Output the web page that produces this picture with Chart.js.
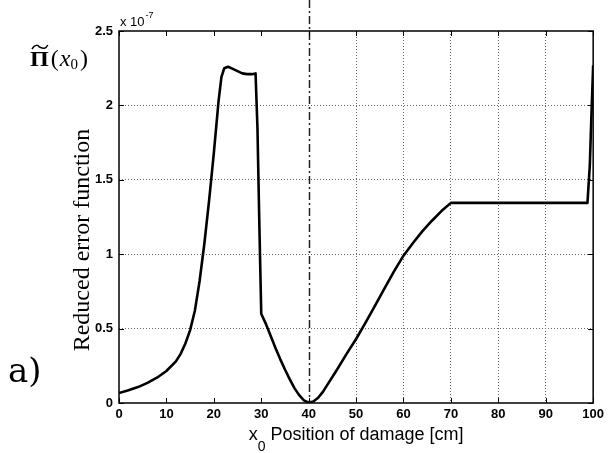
<!DOCTYPE html>
<html>
<head>
<meta charset="utf-8">
<script src="https://cdn.jsdelivr.net/npm/chart.js@4.4.1/dist/chart.umd.min.js"></script>
<style>
  html, body { margin: 0; padding: 0; background: #fff; }
</style>
</head>
<body>
<canvas id="errChart" width="608" height="453"></canvas>
<script>
// damage position x0 [cm]
const positions = [0, 2, 4, 6, 8, 10, 12, 13, 14, 15, 16, 17, 18, 19, 20, 21, 21.6, 22.2, 23, 24, 25, 26, 27, 28, 28.8,
  29.2, 29.6, 30, 31, 32, 33, 34, 35, 36, 37, 38, 39, 40, 41, 42, 43, 44, 46, 48, 50, 52, 54, 56, 58, 60,
  62, 64, 66, 68, 70, 80, 90, 98.8, 99.3, 99.6, 100]
// reduced error function, in units of 10^-7
const errorValues = [0.067, 0.085, 0.107, 0.135, 0.17, 0.215, 0.28, 0.33, 0.40, 0.49, 0.62, 0.82, 1.07, 1.36, 1.68, 2.03, 2.19, 2.25, 2.26, 2.245, 2.23, 2.215, 2.21, 2.21, 2.215,
  1.85, 1.20, 0.60, 0.53, 0.45, 0.37, 0.295, 0.225, 0.16, 0.10, 0.053, 0.018, 0.002, 0.01, 0.035, 0.075, 0.125, 0.225, 0.33, 0.43, 0.54, 0.655, 0.77, 0.885, 0.99,
  1.075, 1.155, 1.225, 1.29, 1.345, 1.345, 1.345, 1.345, 1.6, 1.9, 2.27]
const xTicks = [0, 10, 20, 30, 40, 50, 60, 70, 80, 90, 100]
const yTicks = [0, 0.5, 1, 1.5, 2, 2.5]
const yExponent = '-7'
const damageMark = 40

const tickFont = { family: 'Liberation Sans', size: 13, weight: 'bold' }

// frame, inward ticks, dash-dot marker and the free text around the axes
const decorations = {
  id: 'decorations',
  afterDraw (chart) {
    const { ctx, chartArea: a, scales: { x, y } } = chart
    ctx.save()

    // dash-dot line at the damage position, running up past the frame
    const mx = Math.round(x.getPixelForValue(damageMark)) + 0.5
    ctx.strokeStyle = '#222'
    ctx.lineWidth = 1.5
    ctx.setLineDash([8, 3, 2, 3])
    ctx.beginPath()
    ctx.moveTo(mx, 0)
    ctx.lineTo(mx, a.bottom)
    ctx.stroke()
    ctx.setLineDash([])

    // box
    ctx.strokeStyle = '#000'
    ctx.lineWidth = 1.5
    ctx.strokeRect(a.left, a.top, a.right - a.left, a.bottom - a.top)

    // inward ticks
    ctx.lineWidth = 1
    ctx.beginPath()
    xTicks.forEach(v => {
      const px = Math.round(x.getPixelForValue(v)) + 0.5
      ctx.moveTo(px, a.bottom); ctx.lineTo(px, a.bottom - 5)
      ctx.moveTo(px, a.top); ctx.lineTo(px, a.top + 5)
    })
    yTicks.forEach(v => {
      const py = Math.round(y.getPixelForValue(v)) + 0.5
      ctx.moveTo(a.left, py); ctx.lineTo(a.left + 5, py)
      ctx.moveTo(a.right, py); ctx.lineTo(a.right - 5, py)
    })
    ctx.stroke()

    ctx.fillStyle = '#000'
    ctx.textBaseline = 'alphabetic'
    ctx.textAlign = 'left'

    // axis multiplier
    ctx.font = '13px Liberation Sans'
    ctx.fillText('x 10', a.left + 1, 26)
    const mw = ctx.measureText('x 10').width
    ctx.font = '9px Liberation Sans'
    ctx.fillText(yExponent, a.left + 2 + mw, 18)

    // x axis title with subscript
    ctx.font = '18px Liberation Sans'
    const rest = ' Position of damage [cm]'
    const wx = ctx.measureText('x').width
    const wr = ctx.measureText(rest).width
    ctx.font = '14px Liberation Sans'
    const w0 = ctx.measureText('0').width
    const tx = (a.left + a.right) / 2 - (wx + w0 + wr) / 2
    ctx.font = '18px Liberation Sans'
    ctx.fillText('x', tx, 440)
    ctx.font = '14px Liberation Sans'
    ctx.fillText('0', tx + wx, 451)
    ctx.font = '18px Liberation Sans'
    ctx.fillText(rest, tx + wx + w0, 440)

    // y axis title
    ctx.save()
    ctx.translate(89, 240)
    ctx.rotate(-Math.PI / 2)
    ctx.textAlign = 'center'
    ctx.font = '24px Liberation Serif'
    ctx.fillText('Reduced error function', 0, 0)
    ctx.restore()

    // symbol of the function: Pi with a tilde on top, then (x0)
    let sx = 30
    ctx.font = 'bold 21px Liberation Serif'
    ctx.save()
    ctx.translate(sx, 66)
    ctx.scale(1.15, 1)
    ctx.fillText('\u03A0', 0, 0)
    ctx.restore()
    const pw = ctx.measureText('\u03A0').width * 1.15
    ctx.lineWidth = 1.5
    ctx.beginPath()
    ctx.moveTo(sx + 2, 49)
    ctx.bezierCurveTo(sx + 5, 44, sx + 8, 45, sx + pw / 2, 47)
    ctx.bezierCurveTo(sx + pw - 5, 49, sx + pw - 3, 49, sx + pw - 1, 45)
    ctx.stroke()
    sx += pw + 2
    ctx.font = '24px Liberation Serif'
    ctx.fillText('(', sx, 66)
    sx += ctx.measureText('(').width + 1
    ctx.font = 'italic 24px Liberation Serif'
    ctx.fillText('x', sx, 66)
    sx += ctx.measureText('x').width
    ctx.font = '15px Liberation Serif'
    ctx.fillText('0', sx, 69)
    sx += ctx.measureText('0').width + 2
    ctx.font = '24px Liberation Serif'
    ctx.fillText(')', sx, 66)

    // panel label
    ctx.font = '34px DejaVu Serif'
    ctx.fillText('a)', 8, 382)

    ctx.restore()
  }
}

new Chart(document.getElementById('errChart'), {
  type: 'line',
  data: {
    datasets: [{
      data: positions.map((p, i) => ({ x: p, y: errorValues[i] })),
      borderColor: '#000',
      borderWidth: 2.6,
      borderJoinStyle: 'round',
      pointRadius: 0,
      tension: 0,
      fill: false
    }]
  },
  options: {
    responsive: false,
    animation: false,
    layout: { padding: { top: 31, right: 14, left: 0, bottom: 0 } },
    plugins: { legend: { display: false }, tooltip: { enabled: false } },
    scales: {
      x: {
        type: 'linear',
        min: 0,
        max: 100,
        afterBuildTicks: s => { s.ticks = xTicks.map(v => ({ value: v })) },
        afterFit: s => { s.height = 50 },
        ticks: { font: tickFont, color: '#000', padding: 4, maxRotation: 0 },
        grid: {
          drawTicks: false,
          lineWidth: 1,
          color: c => (c.tick && c.tick.value >= 50 && c.tick.value < 100) ? '#666' : 'rgba(0,0,0,0)'
        },
        border: { display: false, dash: [1, 2] }
      },
      y: {
        min: 0,
        max: 2.5,
        afterBuildTicks: s => { s.ticks = yTicks.map(v => ({ value: v })) },
        afterFit: s => { s.width = 119 },
        ticks: { font: tickFont, color: '#000', padding: 6, callback: v => String(v) },
        grid: {
          drawTicks: false,
          lineWidth: 1,
          color: c => (c.tick && c.tick.value > 0 && c.tick.value < 2.5) ? '#666' : 'rgba(0,0,0,0)'
        },
        border: { display: false, dash: [1, 2] }
      }
    }
  },
  plugins: [decorations]
})
</script>
</body>
</html>
